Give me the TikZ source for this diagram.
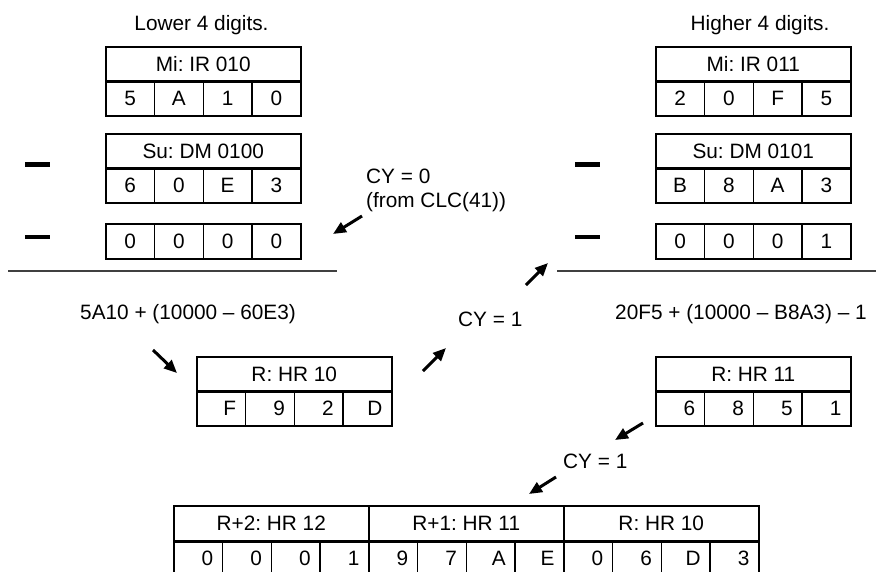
\documentclass[tikz,border=0pt]{standalone}
\usepackage{fontspec}
\setmainfont{Liberation Sans}
\usetikzlibrary{arrows.meta}
\frenchspacing
\tikzset{
  boxline/.style={draw=black, line width=1.5pt},
  hdr/.style={boxline, inner sep=0pt, minimum width=195pt, minimum height=34pt,
    text height=15pt, text depth=0pt, anchor=north west},
  cellc/.style={boxline, inner sep=0pt, minimum width=48.75pt, minimum height=35pt,
    text height=15pt, text depth=0pt, anchor=north west},
  cellr/.style={cellc, text width=30pt, align=right},
  cyarrow/.style={line width=3pt, -{Triangle[length=13pt,width=11pt]}},
  minus/.style={fill=black, inner sep=0pt, minimum width=25pt, minimum height=4.5pt},
  rule/.style={draw=black!75, line width=1.5pt},
  lbl/.style={inner sep=0pt, anchor=base west},
}
% name, x, y, title, cell style, d1..d4
\newcommand\regbox[9]{%
  \node[hdr] (#1) at (#2,#3) {#4};
  \node[#5] (#1-1) at ({#2},{#3+34}) {#6};
  \node[#5] (#1-2) at ({#2+48.75},{#3+34}) {#7};
  \node[#5] (#1-3) at ({#2+97.5},{#3+34}) {#8};
  \node[#5] (#1-4) at ({#2+146.25},{#3+34}) {#9};
  \draw[line width=2pt] (#1.south west) -- (#1.south east);
}
% name, x, y, cell style, d1..d4
\newcommand\digrow[8]{%
  \node[#4] (#1-1) at ({#2},{#3}) {#5};
  \node[#4] (#1-2) at ({#2+48.75},{#3}) {#6};
  \node[#4] (#1-3) at ({#2+97.5},{#3}) {#7};
  \node[#4] (#1-4) at ({#2+146.25},{#3}) {#8};
}
\begin{document}
\begin{tikzpicture}[x=1pt, y=-1pt, font=\fontsize{20.8}{25}\selectfont]
\clip (0,0) rectangle (876,571);
\fill[white] (0,0) rectangle (876,571);

% headings
\node[inner sep=0pt, anchor=base] (lower) at (201.5,30) {Lower 4 digits.};
\node[inner sep=0pt, anchor=base] (higher) at (760,30) {Higher 4 digits.};

% left column
\regbox{mi0}{105}{46}{Mi: IR 010}{cellc}{5}{A}{1}{0}
\regbox{su0}{105}{133}{Su: DM 0100}{cellc}{6}{0}{E}{3}
\digrow{z0}{105}{223}{cellc}{0}{0}{0}{0}
\node[minus] (m0a) at (37.5,164.5) {};
\node[minus] (m0b) at (37.5,237) {};
\coordinate (r0a) at (8,271);
\coordinate (r0b) at (337,271);
\draw[rule] (r0a) -- (r0b);

% right column
\regbox{mi1}{655}{46}{Mi: IR 011}{cellc}{2}{0}{F}{5}
\regbox{su1}{655}{133}{Su: DM 0101}{cellc}{B}{8}{A}{3}
\digrow{z1}{655}{223}{cellc}{0}{0}{0}{1}
\node[minus] (m1a) at (587.5,164.5) {};
\node[minus] (m1b) at (587.5,237) {};
\coordinate (r1a) at (557,271);
\coordinate (r1b) at (876,271);
\draw[rule] (r1a) -- (r1b);

% carry labels and expressions
\node[lbl] (cy0) at (366,183) {CY = 0};
\node[lbl] (clc) at (366,207) {(from CLC(41))};
\node[lbl] (ex0) at (80,319) {5A10 + (10000 – 60E3)};
\node[lbl] (cy1) at (458,326) {CY = 1};
\node[lbl] (ex1) at (615,319) {20F5 + (10000 – B8A3) – 1};
\node[lbl] (cy2) at (563,468) {CY = 1};

% results
\regbox{r10}{196}{356}{R: HR 10}{cellr}{F}{9}{2}{D}
\regbox{r11}{655}{356}{R: HR 11}{cellr}{6}{8}{5}{1}

% final table
\node[hdr, minimum height=35pt] (t2) at (173,505) {R+2: HR 12};
\node[hdr, minimum height=35pt] (t1) at (368,505) {R+1: HR 11};
\node[hdr, minimum height=35pt] (t0) at (563,505) {R: HR 10};
\digrow{t2r}{173}{540}{cellr}{0}{0}{0}{1}
\digrow{t1r}{368}{540}{cellr}{9}{7}{A}{E}
\digrow{t0r}{563}{540}{cellr}{0}{6}{D}{3}
\draw[line width=2pt] (t2.south west) -- (t0.south east);

% arrows
\coordinate (a1s) at (362,216); \coordinate (a1e) at (333,234);
\coordinate (a2s) at (526,285); \coordinate (a2e) at (548,263);
\coordinate (a3s) at (153,350); \coordinate (a3e) at (177,373);
\coordinate (a4s) at (423,371); \coordinate (a4e) at (446,348);
\coordinate (a5s) at (643,423); \coordinate (a5e) at (615,440);
\coordinate (a6s) at (556,477); \coordinate (a6e) at (529,494);
\draw[cyarrow] (a1s) -- (a1e);
\draw[cyarrow] (a2s) -- (a2e);
\draw[cyarrow] (a3s) -- (a3e);
\draw[cyarrow] (a4s) -- (a4e);
\draw[cyarrow] (a5s) -- (a5e);
\draw[cyarrow] (a6s) -- (a6e);
\end{tikzpicture}
\end{document}
